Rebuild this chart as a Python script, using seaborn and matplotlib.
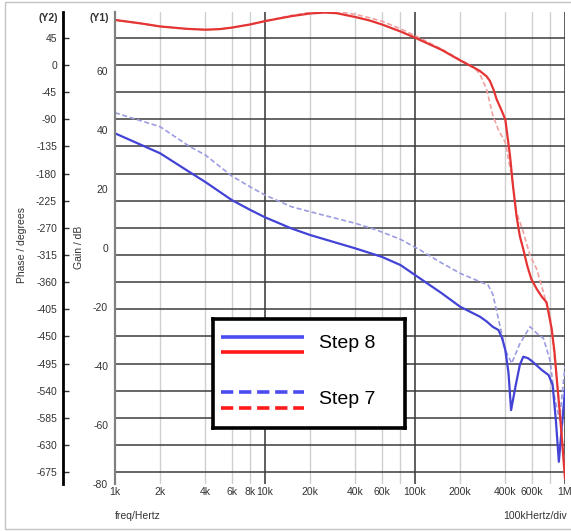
import numpy as np
import pandas as pd
import matplotlib
matplotlib.use("Agg")
import matplotlib.pyplot as plt
import seaborn as sns
from matplotlib.ticker import FixedLocator, FixedFormatter
from matplotlib.patches import Rectangle

sns.set_style("white")
plt.rcParams['font.family'] = ['Liberation Sans', 'DejaVu Sans']

# ---------------- data ----------------
# Gain (dB) -- Y1
freq_gain8 = [1e3, 1.5e3, 2e3, 3e3, 4e3, 5e3, 6e3, 8e3, 1e4, 1.5e4, 2e4, 2.5e4, 3e4, 4e4, 5e4, 6e4,
              8e4, 1e5, 1.5e5, 2e5, 2.5e5, 2.71e5, 3e5, 3.16e5, 3.35e5, 3.5e5, 3.75e5, 4e5, 4.3e5,
              4.5e5, 4.75e5, 5e5, 5.27e5, 5.6e5, 5.96e5, 6.5e5, 7e5, 7.53e5, 8.15e5, 8.5e5, 8.85e5,
              9.2e5, 9.5e5, 1e6]
gain8 = [77.3, 76.1, 75.1, 74.3, 74.0, 74.2, 74.7, 75.8, 76.9, 78.6, 79.5, 79.8, 79.6, 78.3, 77.1, 75.8,
         73.4, 71.3, 67.2, 63.6, 61.0, 60.0, 58.2, 56.6, 53.5, 50.4, 47.0, 43.6, 31.2,
         21.1, 10.9, 4.0, -0.4, -6.0, -10.5, -14.0, -16.5, -18.4, -27.4, -35.0, -45.4,
         -55.0, -63.6, -78.2]

freq_gain7 = [1e3, 1.5e3, 2e3, 3e3, 4e3, 5e3, 6e3, 8e3, 1e4, 1.5e4, 2e4, 2.5e4, 3e4, 4e4, 5e4, 6e4,
              8e4, 1e5, 1.5e5, 2e5, 2.2e5, 2.5e5, 2.71e5, 3e5, 3.31e5, 3.6e5, 4e5, 4.4e5, 4.75e5,
              5.27e5, 5.85e5, 6.47e5, 7.17e5, 7.94e5, 8.77e5, 9.5e5, 1e6]
gain7 = [77.3, 76.1, 75.1, 74.3, 74.0, 74.2, 74.7, 75.8, 77.0, 78.8, 79.9, 80.3, 80.2, 79.2, 78.0, 76.9,
         74.3, 72.0, 67.5, 63.8, 62.6, 61.0, 58.9, 53.8, 44.8, 40.0, 35.8, 24.5, 12.2,
         5.4, -2.6, -7.1, -14.9, -22.9, -43.3, -61.3, -78.0]

# Phase (degrees) -- Y2
freq_phase8 = [1e3, 2e3, 3.16e3, 4e3, 6e3, 8e3, 1e4, 1.5e4, 2e4, 4e4, 6e4, 8e4, 1e5, 1.5e5, 2e5,
               2.71e5, 3e5, 3.3e5, 3.6e5, 3.8e5, 4e5, 4.2e5, 4.37e5, 4.7e5, 5e5, 5.27e5, 5.67e5,
               6e5, 7e5, 7.78e5, 8.27e5, 8.7e5, 9.1e5, 1e6]
phase8 = [-113.4, -146.5, -178.0, -194.0, -223.9, -240.5, -252.5, -271.0, -281.9, -304.0, -318.0,
          -331.6, -348.1, -378.0, -400.7, -417.2, -425.0, -434.0, -439.3, -452.0, -472.4, -510.0,
          -572.0, -530.0, -497.0, -483.5, -486.0, -490.6, -505.5, -514.0, -530.4, -590.0,
          -657.5, -538.6]

freq_phase7 = [1e3, 2e3, 3.16e3, 4e3, 6e3, 8e3, 1e4, 1.5e4, 2e4, 4e4, 5.55e4, 8e4, 1.08e5, 1.5e5,
               2e5, 2.71e5, 3.07e5, 3.3e5, 3.49e5, 4e5, 4.41e5, 5e5, 5.85e5, 6.5e5, 7.18e5, 7.94e5,
               8.51e5, 9.2e5, 1e6]
phase7 = [-79.3, -102.5, -135.6, -149.3, -184.1, -202.4, -215.6, -235.0, -243.3, -262.5, -273.6,
          -289.0, -306.7, -328.0, -345.3, -359.2, -364.7, -380.0, -406.0, -472.4, -494.4, -462.0,
          -433.8, -445.0, -453.0, -489.0, -549.8, -588.0, -500.0]

y2_ticks = list(range(45, -676, -45))
y1_ticks = list(range(-80, 61, 20))
x_major = [1e3, 1e4, 1e5, 1e6]
x_major_labels = ['1k', '10k', '100k', '1M']
x_minor = [2e3, 4e3, 6e3, 8e3, 2e4, 4e4, 6e4, 8e4, 2e5, 4e5, 6e5, 8e5]
x_minor_labels = ['2k', '4k', '6k', '8k', '20k', '40k', '60k', '', '200k', '400k', '600k', '']

legend_labels = ['Step 8', 'Step 7']

# colours
BLUE = '#4343d6'
RED = '#e43434'
BLUE_D = '#9c9ce2'
RED_D = '#f2a0a0'

W, H = 571, 531
fig = plt.figure(figsize=(W / 100, H / 100), dpi=100)
fig.patch.set_facecolor('white')

# outer frame
fig.add_artist(Rectangle((5 / W, 1 - 529 / H), 1.2, (527) / H, transform=fig.transFigure,
                         fill=False, edgecolor='#c4c4c4', lw=1.0))

left, right, top, bottom = 115, 565, 12, 484
ax = fig.add_axes([left / W, 1 - bottom / H, (right - left) / W, (bottom - top) / H])
ax.set_xscale('log')
ax2 = ax.twinx()
ax.set_facecolor('white')

df_p8 = pd.DataFrame({'freq': freq_phase8, 'phase': phase8})
df_p7 = pd.DataFrame({'freq': freq_phase7, 'phase': phase7})
df_g8 = pd.DataFrame({'freq': freq_gain8, 'gain': gain8})
df_g7 = pd.DataFrame({'freq': freq_gain7, 'gain': gain7})

sns.lineplot(data=df_p7, x='freq', y='phase', ax=ax, color=BLUE_D, lw=1.2,
             linestyle=(0, (3, 1.6)), legend=False)
sns.lineplot(data=df_p8, x='freq', y='phase', ax=ax, color=BLUE, lw=1.6, legend=False)
sns.lineplot(data=df_g7, x='freq', y='gain', ax=ax2, color=RED_D, lw=1.2,
             linestyle=(0, (3, 1.6)), legend=False)
sns.lineplot(data=df_g8, x='freq', y='gain', ax=ax2, color=RED, lw=1.6, legend=False)

ax.set_xlim(1e3, 1e6)
ax.set_ylim(-694.4, 87.6)
ax2.set_ylim(-80, 80)
ax.set_xlabel('')
ax.set_ylabel('')
ax2.set_xlabel('')
ax2.set_ylabel('')

# x ticks
ax.xaxis.set_major_locator(FixedLocator(x_major))
ax.xaxis.set_major_formatter(FixedFormatter(x_major_labels))
ax.xaxis.set_minor_locator(FixedLocator(x_minor))
ax.xaxis.set_minor_formatter(FixedFormatter(x_minor_labels))
ax.tick_params(axis='x', which='both', length=0, labelsize=7.5, labelcolor='#333333', pad=2.5)

# Y2 (phase) axis on the outer left
ax.yaxis.set_major_locator(FixedLocator(y2_ticks))
ax.yaxis.set_major_formatter(FixedFormatter([str(v) for v in y2_ticks]))
ax.spines['left'].set_position(('axes', -52 / (right - left)))
ax.spines['left'].set_color('black')
ax.spines['left'].set_linewidth(2.0)
for s in ['top', 'right', 'bottom']:
    ax.spines[s].set_visible(False)
ax.tick_params(axis='y', which='major', direction='in', length=4.3, width=1, color='#333333',
               labelsize=7.5, labelcolor='#333333', pad=4.3, left=True)

# Y1 (gain) axis at the plot edge
ax2.yaxis.tick_left()
ax2.yaxis.set_label_position('left')
ax2.yaxis.set_major_locator(FixedLocator(y1_ticks))
ax2.yaxis.set_major_formatter(FixedFormatter([str(v) for v in y1_ticks]))
for s in ['top', 'right', 'bottom']:
    ax2.spines[s].set_visible(False)
ax2.spines['left'].set_color('#808080')
ax2.spines['left'].set_linewidth(1.6)
ax2.tick_params(axis='y', length=0, labelsize=7.5, labelcolor='#333333', pad=5)

# grids
ax.set_axisbelow(True)
ax.xaxis.grid(True, which='major', color='#333333', lw=1.1)
ax.xaxis.grid(True, which='minor', color='#cfcfcf', lw=1.0)
ax.yaxis.grid(True, which='major', color='#3c3c3c', lw=1.1)

# axis titles
fig.text(48 / W, 1 - 18 / H, '(Y2)', ha='center', va='center', fontsize=7.5,
         fontweight='bold', color='#333333')
fig.text(99.5 / W, 1 - 18 / H, '(Y1)', ha='center', va='center', fontsize=7.5,
         fontweight='bold', color='#333333')
fig.text(22 / W, 1 - 245 / H, 'Phase / degrees', rotation=90, ha='center', va='center',
         fontsize=7.5, color='#333333')
fig.text(79 / W, 1 - 247 / H, 'Gain / dB', rotation=90, ha='center', va='center',
         fontsize=7.5, color='#333333')
fig.text(115 / W, 1 - 516 / H, 'freq/Hertz', ha='left', va='center', fontsize=7.5,
         color='#333333')
fig.text(567 / W, 1 - 516 / H, '100kHertz/div', ha='right', va='center', fontsize=7.5,
         color='#333333')

# legend box
lg = fig.add_axes([213.3 / W, 1 - 428.3 / H, 191.7 / W, 109 / H])
lg.set_facecolor('white')
lg.set_xlim(0, 1)
lg.set_ylim(0, 1)
lg.set_xticks([])
lg.set_yticks([])
for s in lg.spines.values():
    s.set_color('black')
    s.set_linewidth(2.6)
lg.plot([0.04, 0.473], [0.84, 0.84], color='#4b4bf2', lw=2.6, solid_capstyle='butt')
lg.plot([0.04, 0.473], [0.70, 0.70], color='#ff1a1a', lw=2.6, solid_capstyle='butt')
lg.plot([0.04, 0.473], [0.333, 0.333], color='#4b4bf2', lw=2.6, linestyle=(0, (3.4, 1.6)))
lg.plot([0.04, 0.473], [0.189, 0.189], color='#ff1a1a', lw=2.6, linestyle=(0, (3.4, 1.6)))
lg.text(0.55, 0.78, legend_labels[0], ha='left', va='center', fontsize=14, color='black')
lg.text(0.55, 0.26, legend_labels[1], ha='left', va='center', fontsize=14, color='black')

fig.savefig('out.png', dpi=100)
